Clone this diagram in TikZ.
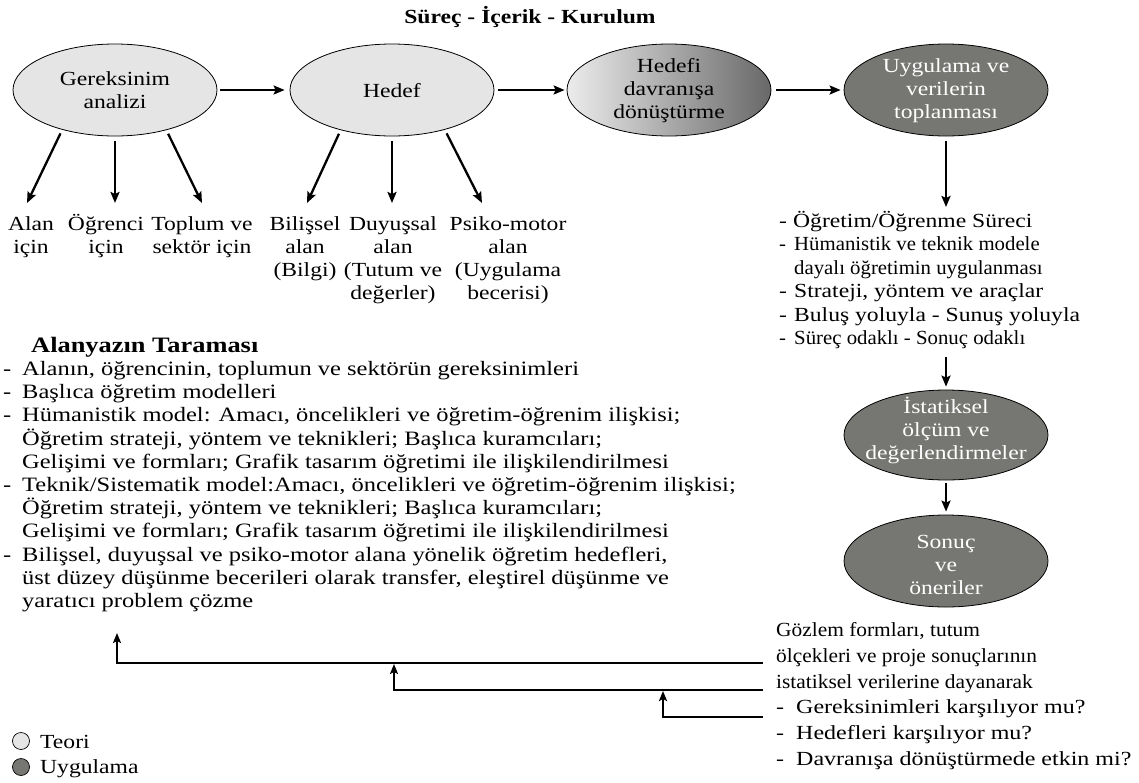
\documentclass[tikz,border=0pt]{standalone}
\usepackage{fontspec}
\setmainfont{Liberation Serif}[FakeStretch=1.18]
\newfontfamily\nf{Liberation Serif}[FakeStretch=1.04]
\newfontfamily\mf{Liberation Serif}[FakeStretch=1.07]
\newfontfamily\wf{Liberation Serif}[FakeStretch=1.2]
\newcommand{\tstrut}{\rule{0pt}{20pt}}
\usetikzlibrary{shapes.geometric,arrows.meta}
\definecolor{lightg}{RGB}{229,229,229}
\definecolor{darkg}{RGB}{118,118,114}
\definecolor{gradl}{RGB}{236,236,236}
\definecolor{gradr}{RGB}{104,104,104}
\begin{document}
\begin{tikzpicture}[x=1pt,y=-1pt,
  ell/.style={ellipse,draw=black,line width=0.8pt,minimum width=204pt,minimum height=92pt,inner sep=0pt},
  teori/.style={ell,fill=lightg},
  uyg/.style={ell,fill=darkg},
  etxt/.style={align=center,inner sep=0pt,font=\fontsize{20}{23}\selectfont},
  arr/.style={line width=2.3pt,-{Stealth[length=11pt,width=9pt,inset=2pt]}},
  fbarr/.style={line width=2.1pt,-{Stealth[length=10pt,width=8pt,inset=2pt]}},
  lbl/.style={align=center,anchor=north,inner sep=0pt,font=\fontsize{20}{23}\selectfont},
  txt/.style={align=left,anchor=north west,inner sep=0pt},
]
\fill[white] (0,0) rectangle (1139,782);
\path[use as bounding box] (0,0) rectangle (1139,782);

% title
\node[anchor=base,inner sep=0pt,font=\bfseries\fontsize{20}{23}\selectfont] (title) at (530,23) {Süreç - İçerik - Kurulum};

% ellipses
\node[teori] (e1) at (115,90) {};
\node[etxt,anchor=north] (t1) at (115,65) {\tstrut Gereksinim\\analizi};
\node[teori] (e2) at (392,90) {};
\node[etxt,anchor=north] (t2) at (392,77) {\tstrut Hedef};
\node[ell,left color=gradl,right color=gradr] (e3) at (669,90) {};
\node[etxt,anchor=north] (t3) at (669,52) {\tstrut Hedefi\\davranışa\\dönüştürme};
\node[uyg] (e4) at (946,90) {};
\node[etxt,text=white,anchor=north] (t4) at (946,52) {\tstrut Uygulama ve\\verilerin\\toplanması};
\node[uyg,minimum height=90pt] (e5) at (946,435) {};
\node[etxt,text=white,anchor=north] (t5) at (946,393) {\tstrut İstatiksel\\ölçüm ve\\değerlendirmeler};
\node[uyg] (e6) at (946,561) {};
\node[etxt,text=white,anchor=north] (t6) at (946,528) {\tstrut Sonuç\\ve\\öneriler};

% horizontal arrows
\draw[arr,shorten <=3pt,shorten >=5pt] (e1) -- (e2);
\draw[arr,shorten <=4pt,shorten >=2pt] (e2) -- (e3);
\draw[arr,shorten <=5pt,shorten >=3pt] (e3) -- (e4);

% labels under first two ellipses
\node[lbl] (l1) at (31,210) {\tstrut Alan\\için};
\node[lbl] (l2) at (106,210) {\tstrut Öğrenci\\için};
\node[lbl] (l3) at (202,210) {\tstrut Toplum ve\\sektör için};
\node[lbl] (l4) at (305,210) {\tstrut Bilişsel\\alan\\(Bilgi)};
\node[lbl] (l5) at (393,210) {\tstrut Duyuşsal\\alan\\(Tutum ve\\değerler)};
\node[lbl] (l6) at (508,210) {\tstrut Psiko-motor\\alan\\(Uygulama\\becerisi)};

\coordinate (a1) at (27,203);
\coordinate (a2) at (115,203);
\coordinate (a3) at (202,203);
\coordinate (b1) at (307,203);
\coordinate (b2) at (392,203);
\coordinate (b3) at (482,203);
\draw[arr,shorten <=4pt] (e1.217) -- (a1);
\draw[arr,shorten <=5pt] (e1.south) -- (a2);
\draw[arr,shorten <=4pt] (e1.322) -- (a3);
\draw[arr,shorten <=4pt] (e2.218) -- (b1);
\draw[arr,shorten <=5pt] (e2.south) -- (b2);
\draw[arr,shorten <=4pt] (e2.323) -- (b3);

% right list
\node[txt,font=\fontsize{20}{23.5}\selectfont] (lst) at (779,207) {%
\tstrut\makebox[14pt][l]{-}Öğretim/Öğrenme Süreci\\
{\nf\makebox[15pt][l]{-}Hümanistik ve teknik modele}\\
{\nf\hspace*{15pt}dayalı öğretimin uygulanması}\\
\makebox[15pt][l]{-}Strateji, yöntem ve araçlar\\
\makebox[15pt][l]{-}Buluş yoluyla - Sunuş yoluyla\\
{\nf\makebox[15pt][l]{-}Süreç odaklı - Sonuç odaklı}};

\draw[arr,shorten <=5pt,shorten >=0pt] (e4.south) -- (e4.south |- lst.north);
\draw[arr,shorten <=8pt,shorten >=3pt] (lst.south -| e5.north) -- (e5.north);
\draw[arr,shorten <=3pt,shorten >=3pt] (e5) -- (e6);

% left literature block
\node[txt,font=\wf\fontsize{20.4}{23.2}\selectfont] (lb) at (3,332) {%
\tstrut\hspace*{28pt}{\bfseries\fontsize{22}{23.2}\selectfont Alanyazın Taraması}\\
\makebox[19pt][l]{-}Alanın, öğrencinin, toplumun ve sektörün gereksinimleri\\
\makebox[19pt][l]{-}Başlıca öğretim modelleri\\
\makebox[19pt][l]{-}Hümanistik model: Amacı, öncelikleri ve öğretim-öğrenim ilişkisi;\\
\hspace*{19pt}Öğretim strateji, yöntem ve teknikleri; Başlıca kuramcıları;\\
\hspace*{19pt}Gelişimi ve formları; Grafik tasarım öğretimi ile ilişkilendirilmesi\\
\makebox[19pt][l]{-}Teknik/Sistematik model:Amacı, öncelikleri ve öğretim-öğrenim ilişkisi;\\
\hspace*{19pt}Öğretim strateji, yöntem ve teknikleri; Başlıca kuramcıları;\\
\hspace*{19pt}Gelişimi ve formları; Grafik tasarım öğretimi ile ilişkilendirilmesi\\
\makebox[19pt][l]{-}Bilişsel, duyuşsal ve psiko-motor alana yönelik öğretim hedefleri,\\
\hspace*{19pt}üst düzey düşünme becerileri olarak transfer, eleştirel düşünme ve\\
\hspace*{19pt}yaratıcı problem çözme};

% bottom right block
\node[txt,font=\mf\fontsize{20}{25.9}\selectfont] (fb) at (776,616) {%
\tstrut Gözlem formları, tutum\\
ölçekleri ve proje sonuçlarının\\
istatiksel verilerine dayanarak\\
{\wf\makebox[20pt][l]{-}Gereksinimleri karşılıyor mu?}\\
{\wf\makebox[20pt][l]{-}Hedefleri karşılıyor mu?}\\
{\wf\makebox[20pt][l]{-}Davranışa dönüştürmede etkin mi?}};

% feedback arrows
\coordinate (f1) at (763,663);
\coordinate (f2) at (763,690);
\coordinate (f3) at (763,717);
\coordinate (u1) at (117,633);
\coordinate (u2) at (394,664);
\coordinate (u3) at (663,691);
\draw[fbarr] (f1) -| (u1);
\draw[fbarr] (f2) -| (u2);
\draw[fbarr] (f3) -| (u3);

% legend
\node[circle,draw=black,line width=0.7pt,fill=lightg,minimum size=17pt,inner sep=0pt] (c1) at (21,741) {};
\node[anchor=base west,inner sep=0pt,font=\fontsize{20}{23}\selectfont] (lt1) at (40,748) {Teori};
\node[circle,draw=black,line width=0.7pt,fill=darkg,minimum size=17pt,inner sep=0pt] (c2) at (21,767) {};
\node[anchor=base west,inner sep=0pt,font=\fontsize{20}{23}\selectfont] (lt2) at (40,773) {Uygulama};
\end{tikzpicture}
\end{document}
